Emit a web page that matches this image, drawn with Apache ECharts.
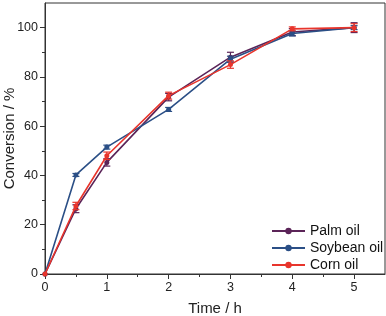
<!DOCTYPE html>
<html><head><meta charset="utf-8">
<script src="https://cdn.jsdelivr.net/npm/echarts@6/dist/echarts.min.js"></script>
<style>html,body{margin:0;padding:0;background:#fff}#c{width:386px;height:316px}</style>
</head><body><div id="c"></div>
<script>
const times = [0, 0.5, 1, 2, 3, 4, 5];
const palm = [0, 26.5, 45.3, 71.8, 88, 98.2, 100];
const palmErr = [0, 1.6, 1.5, 1.5, 2, 1.4, 2];
const soybean = [0, 40.2, 51.5, 66.8, 87.2, 97.6, 100];
const soybeanErr = [0, 0.6, 0.8, 0.8, 1.2, 1, 0.8];
const corn = [0, 27.6, 48, 72.4, 85, 99.5, 100];
const cornErr = [0, 1.5, 1.5, 1.4, 1.5, 0.8, 1.6];
const xTicks = [0, 1, 2, 3, 4, 5];
const xMinor = [0.5, 1.5, 2.5, 3.5, 4.5];
const yTicks = [0, 20, 40, 60, 80, 100];
const yMinor = [10, 30, 50, 70, 90];
const names = ['Palm oil', 'Soybean oil', 'Corn oil'];
const colors = ['#5b2458', '#2b4f86', '#e8352c'];
const vals = [palm, soybean, corn];
const errs = [palmErr, soybeanErr, cornErr];

const chart = echarts.init(document.getElementById('c'));
const font = 'Liberation Sans, Arial, sans-serif';
const axisBase = {
  type: 'value', splitLine: {show: false},
  axisLine: {show: true, lineStyle: {color: '#333', width: 1}}
};
const series = [];
names.forEach((n, i) => {
  series.push({
    name: n, type: 'line', data: times.map((t, k) => [t, vals[i][k]]),
    symbol: 'circle', symbolSize: 5, z: 3 + i,
    lineStyle: {color: colors[i], width: 1.6}, itemStyle: {color: colors[i]}
  });
  series.push({
    type: 'custom', z: 3 + i, silent: true,
    data: times.map((t, k) => [t, vals[i][k], errs[i][k]]).filter(d => d[2] > 0),
    renderItem: (params, api) => {
      const x = api.value(0), y = api.value(1), e = api.value(2);
      const p1 = api.coord([x, y + e]), p2 = api.coord([x, y - e]);
      const w = 3.5;
      const st = {stroke: colors[i], lineWidth: 1.2};
      return {type: 'group', children: [
        {type: 'line', shape: {x1: p1[0], y1: p1[1], x2: p2[0], y2: p2[1]}, style: st},
        {type: 'line', shape: {x1: p1[0]-w, y1: p1[1], x2: p1[0]+w, y2: p1[1]}, style: st},
        {type: 'line', shape: {x1: p2[0]-w, y1: p2[1], x2: p2[0]+w, y2: p2[1]}, style: st}
      ]};
    }
  });
});

chart.setOption({
  animation: false,
  textStyle: {fontFamily: font},
  grid: {left: 45, right: 1, top: 3, bottom: 42, show: true, borderColor: '#333', borderWidth: 1,
         containLabel: false, outerBoundsMode: 'none'},
  legend: {
    orient: 'vertical', left: 266, top: 219, itemWidth: 33, itemHeight: 8, itemGap: 3,
    data: names, textStyle: {fontSize: 14, color: '#111', fontFamily: font}
  },
  xAxis: [
    Object.assign({}, axisBase, {
      min: 0, max: 5.5, name: 'Time / h', nameLocation: 'middle', nameGap: 27, nameMoveOverlap: false,
      nameTextStyle: {fontSize: 15, color: '#222'},
      axisTick: {show: true, length: 5, customValues: xTicks, lineStyle: {color: '#333'}},
      axisLabel: {customValues: xTicks, fontSize: 12.5, color: '#222', margin: 7}
    }),
    Object.assign({}, axisBase, {
      min: 0, max: 5.5, position: 'bottom', axisLine: {show: false},
      axisTick: {show: true, length: 3, customValues: xMinor, lineStyle: {color: '#333'}},
      axisLabel: {show: false}
    })
  ],
  yAxis: [
    Object.assign({}, axisBase, {
      min: 0, max: 110, name: 'Conversion / %', nameLocation: 'middle', nameGap: 28, nameMoveOverlap: false,
      nameTextStyle: {fontSize: 15, color: '#222'},
      axisTick: {show: true, length: 5, customValues: yTicks, lineStyle: {color: '#333'}},
      axisLabel: {customValues: yTicks, fontSize: 12.5, color: '#222', margin: 7}
    }),
    Object.assign({}, axisBase, {
      min: 0, max: 110, position: 'left', axisLine: {show: false},
      axisTick: {show: true, length: 3, customValues: yMinor, lineStyle: {color: '#333'}},
      axisLabel: {show: false}
    })
  ],
  series: series
});
</script></body></html>
